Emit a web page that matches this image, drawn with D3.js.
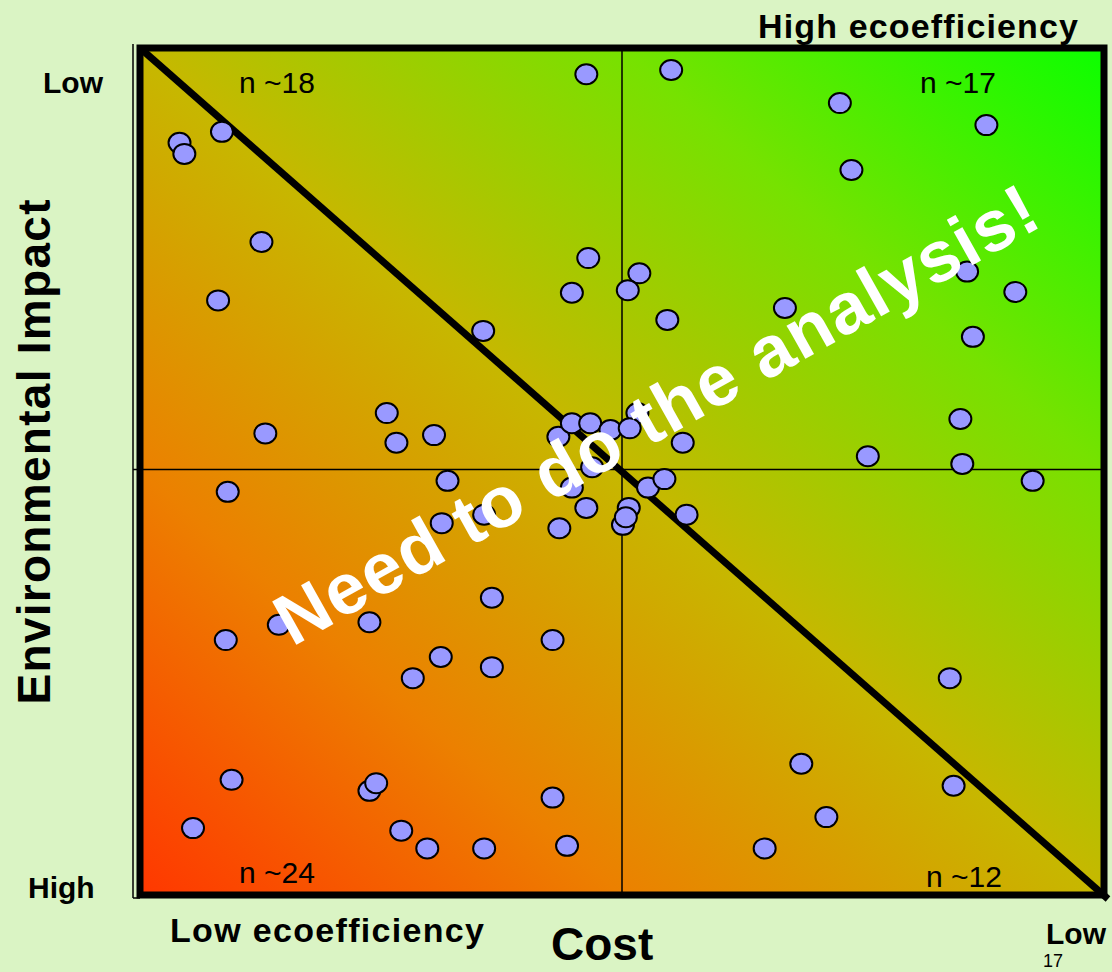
<!DOCTYPE html>
<html>
<head>
<meta charset="utf-8">
<script src="https://cdn.jsdelivr.net/npm/d3@7"></script>
<style>
  body { margin: 0; background: #daf4c4; }
  svg { display: block; font-family: "Liberation Sans", Arial, sans-serif; }
</style>
</head>
<body>
<script>
// cost (0 = high, 100 = low) and environmental impact (0 = high, 100 = low)
var costTL = [4.1, 4.6, 8.5, 12.6, 8.1, 35.6, 13.0, 25.6, 26.6, 30.5, 46.3, 46.5, 44.8, 31.9, 31.3, 35.7, 9.1];
var impactTL = [88.8, 87.5, 90.1, 77.1, 70.2, 66.6, 54.5, 56.9, 53.4, 54.3, 96.9, 75.2, 71.1, 48.9, 43.9, 44.9, 47.6];

var costMid = [43.4, 44.8, 46.7, 48.8, 51.6, 50.8, 56.3, 46.9, 44.8, 46.3, 43.5, 52.7, 54.4, 50.7, 50.1, 50.4, 56.7];
var impactMid = [54.1, 55.7, 55.7, 54.9, 56.9, 55.1, 53.4, 50.5, 48.1, 45.7, 43.3, 48.1, 49.1, 45.7, 43.7, 44.6, 44.9];

var costTR = [51.8, 50.6, 54.7, 55.1, 72.6, 87.8, 73.8, 85.8, 90.8, 86.4, 66.9, 85.1, 75.5, 85.3, 92.6];
var impactTR = [73.4, 71.4, 67.9, 97.4, 93.5, 90.9, 85.6, 73.6, 71.2, 65.9, 69.3, 56.2, 51.8, 50.9, 48.9];

var costBL = [8.9, 14.4, 23.8, 36.5, 42.8, 31.2, 28.3, 36.5, 9.5, 5.5, 23.8, 24.5, 27.1, 29.8, 35.7, 42.8, 44.3];
var impactBL = [30.1, 31.9, 32.2, 35.1, 30.1, 28.1, 25.6, 26.9, 13.6, 7.9, 12.3, 13.2, 7.6, 5.5, 5.5, 11.5, 5.8];

var costBR = [84.0, 68.6, 84.4, 71.2, 64.8];
var impactBR = [25.6, 15.5, 12.9, 9.2, 5.5];

var quadLabels = ["n ~18", "n ~17", "n ~24", "n ~12"];

var W = 1112, H = 972;
var svg = d3.select("body").append("svg").attr("width", W).attr("height", H);

var x = d3.scaleLinear().domain([0, 100]).range([140, 1104]);
var y = d3.scaleLinear().domain([0, 100]).range([895, 48]);

// gradient red -> green
var grad = svg.append("defs").append("linearGradient")
  .attr("id", "bg").attr("x1", 0).attr("y1", 1).attr("x2", 1).attr("y2", 0);
[[0, "rgb(255,55,0)"], [0.25, "rgb(236,128,0)"], [0.5, "rgb(198,184,0)"],
 [0.75, "rgb(118,226,0)"], [1, "rgb(12,255,0)"]].forEach(function(s){
  grad.append("stop").attr("offset", s[0]).attr("stop-color", s[1]);
});

svg.append("rect")
  .attr("x", x(0)).attr("y", y(100))
  .attr("width", x(100) - x(0)).attr("height", y(0) - y(100))
  .attr("fill", "url(#bg)");

// thin axis frame
svg.append("line").attr("x1", x(0) - 7).attr("x2", x(0) - 7)
  .attr("y1", y(100) - 4).attr("y2", y(0) + 3)
  .attr("stroke", "#000").attr("stroke-width", 1.5);
svg.append("line").attr("x1", x(0) - 7).attr("x2", x(0))
  .attr("y1", y(0) + 3).attr("y2", y(0) + 3)
  .attr("stroke", "#000").attr("stroke-width", 1.5);

// quadrant lines
svg.append("line").attr("x1", x(50)).attr("x2", x(50))
  .attr("y1", y(100)).attr("y2", y(0))
  .attr("stroke", "#000").attr("stroke-width", 1.5);
svg.append("line").attr("x1", x(0) - 7).attr("x2", x(100))
  .attr("y1", y(50) - 2).attr("y2", y(50) - 2)
  .attr("stroke", "#000").attr("stroke-width", 1.5);

// diagonal
svg.append("line").attr("x1", x(0)).attr("y1", y(100))
  .attr("x2", x(100) + 4).attr("y2", y(0) + 4)
  .attr("stroke", "#000").attr("stroke-width", 7);

// thick border
svg.append("rect")
  .attr("x", x(0)).attr("y", y(100))
  .attr("width", x(100) - x(0)).attr("height", y(0) - y(100))
  .attr("fill", "none").attr("stroke", "#000").attr("stroke-width", 7);

// points
var groups = [[costTL, impactTL], [costTR, impactTR], [costBL, impactBL], [costBR, impactBR], [costMid, impactMid]];
groups.forEach(function(g){
  var pts = g[0].map(function(c, i){ return {c: c, e: g[1][i]}; });
  svg.append("g").selectAll("ellipse")
    .data(pts)
    .enter()
    .append("ellipse")
    .attr("cx", function(d){ return x(d.c); })
    .attr("cy", function(d){ return y(d.e); })
    .attr("rx", 11).attr("ry", 10)
    .attr("fill", "#9999ff")
    .attr("stroke", "#000")
    .attr("stroke-width", 2);
});

// quadrant counts
var qpos = [[277, 93], [958, 93], [277, 883], [964, 887]];
quadLabels.forEach(function(t, i){
  svg.append("text").attr("x", qpos[i][0]).attr("y", qpos[i][1])
    .attr("text-anchor", "middle").attr("font-size", 30).text(t);
});

// corner and axis labels
function label(t, px, py, size, len, anchor){
  var el = svg.append("text").attr("x", px).attr("y", py)
    .attr("font-size", size).attr("font-weight", "bold")
    .attr("text-anchor", anchor || "start").text(t);
  if (len) el.attr("textLength", len).attr("lengthAdjust", "spacing");
  return el;
}
label("High ecoefficiency", 758, 38, 34, 320);
label("Low ecoefficiency", 170, 942, 34, 314);
label("Low", 43, 93, 30);
label("High", 28, 898, 30);
label("Low", 1046, 944, 30);
label("Cost", 551, 960, 46);

svg.append("text").attr("transform", "translate(50,452) rotate(-90)")
  .attr("text-anchor", "middle").attr("font-size", 46).attr("font-weight", "bold")
  .attr("textLength", 505).attr("lengthAdjust", "spacing")
  .text("Environmental Impact");

svg.append("text").attr("x", 1043).attr("y", 967).attr("font-size", 18).text("17");

// overlay message
svg.append("text").attr("transform", "translate(668,436) rotate(-29.3)")
  .attr("text-anchor", "middle").attr("font-size", 72).attr("font-weight", "bold")
  .attr("fill", "#fff")
  .attr("textLength", 862).attr("lengthAdjust", "spacing")
  .text("Need to do the analysis!");
</script>
</body>
</html>
